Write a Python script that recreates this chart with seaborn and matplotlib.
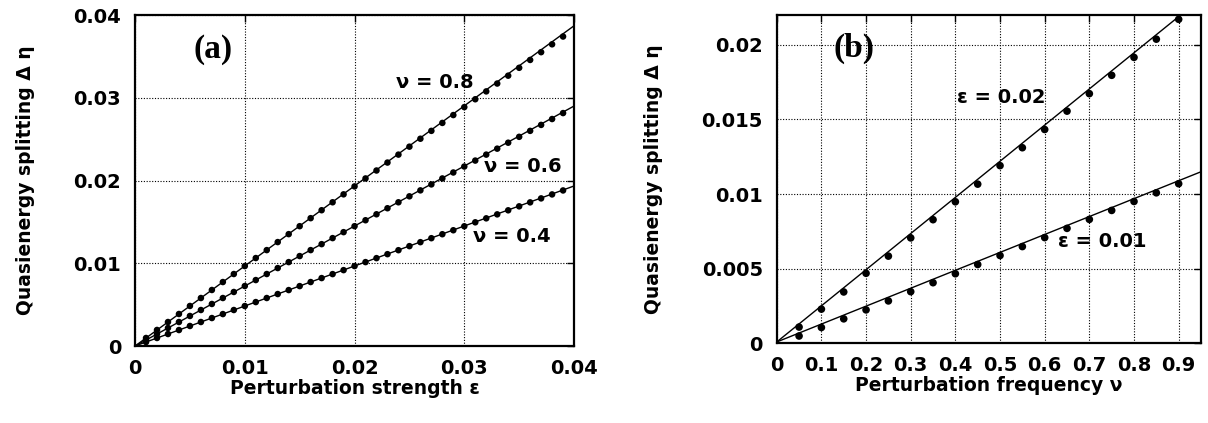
import numpy as np
import pandas as pd
import matplotlib
matplotlib.use('Agg')
import matplotlib.pyplot as plt
import seaborn as sns

# painel (a): desdobramento vs intensidade da perturbacao
eps_a = [0.001, 0.002, 0.003, 0.004, 0.005, 0.006, 0.007, 0.008, 0.009, 0.010,
         0.011, 0.012, 0.013, 0.014, 0.015, 0.016, 0.017, 0.018, 0.019, 0.020,
         0.021, 0.022, 0.023, 0.024, 0.025, 0.026, 0.027, 0.028, 0.029, 0.030,
         0.031, 0.032, 0.033, 0.034, 0.035, 0.036, 0.037, 0.038, 0.039]
deta_nu08 = [0.00097, 0.00194, 0.00290, 0.00387, 0.00484, 0.00580, 0.00677, 0.00773, 0.00870, 0.00966,
             0.01063, 0.01159, 0.01256, 0.01352, 0.01448, 0.01545, 0.01641, 0.01737, 0.01833, 0.01929,
             0.02025, 0.02121, 0.02217, 0.02313, 0.02409, 0.02505, 0.02600, 0.02696, 0.02791, 0.02887,
             0.02982, 0.03077, 0.03172, 0.03267, 0.03362, 0.03457, 0.03551, 0.03646, 0.03740]
deta_nu06 = [0.00073, 0.00145, 0.00218, 0.00290, 0.00363, 0.00435, 0.00508, 0.00580, 0.00653, 0.00725,
             0.00797, 0.00870, 0.00942, 0.01014, 0.01087, 0.01159, 0.01231, 0.01304, 0.01376, 0.01448,
             0.01520, 0.01592, 0.01665, 0.01737, 0.01809, 0.01881, 0.01953, 0.02025, 0.02097, 0.02169,
             0.02241, 0.02313, 0.02385, 0.02457, 0.02528, 0.02600, 0.02672, 0.02743, 0.02815]
deta_nu04 = [0.00048, 0.00097, 0.00145, 0.00193, 0.00242, 0.00290, 0.00338, 0.00386, 0.00435, 0.00483,
             0.00531, 0.00580, 0.00628, 0.00676, 0.00724, 0.00773, 0.00821, 0.00869, 0.00917, 0.00966,
             0.01014, 0.01062, 0.01110, 0.01158, 0.01207, 0.01255, 0.01303, 0.01351, 0.01399, 0.01447,
             0.01495, 0.01543, 0.01591, 0.01640, 0.01688, 0.01736, 0.01784, 0.01832, 0.01880]
# retas de ajuste (extremos)
fit_eps = [0.0, 0.04]
fit_nu08 = [0.0, 0.0387]
fit_nu06 = [0.0, 0.0290]
fit_nu04 = [0.0, 0.01934]

# painel (b): desdobramento vs frequencia da perturbacao
nu_b = [0.05, 0.10, 0.15, 0.20, 0.25, 0.30, 0.35, 0.40, 0.45,
        0.50, 0.55, 0.60, 0.65, 0.70, 0.75, 0.80, 0.85, 0.90]
deta_eps002 = [0.00110, 0.00230, 0.00345, 0.00470, 0.00585, 0.00707, 0.00829, 0.00949, 0.01067,
               0.01191, 0.01311, 0.01433, 0.01556, 0.01673, 0.01796, 0.01916, 0.02038, 0.02171]
deta_eps001 = [0.00050, 0.00107, 0.00165, 0.00225, 0.00285, 0.00347, 0.00407, 0.00467, 0.00529,
               0.00589, 0.00649, 0.00709, 0.00771, 0.00831, 0.00891, 0.00951, 0.01009, 0.01070]
fit_nu = [0.0, 0.95]
fit_eps002 = [0.0001, 0.0231]
fit_eps001 = [0.0001, 0.0115]

rotulos_a = ['\u03bd = 0.8', '\u03bd = 0.6', '\u03bd = 0.4']
rotulos_b = ['\u03b5 = 0.02', '\u03b5 = 0.01']

sns.set_theme(style='white')
plt.rcParams['font.family'] = ['DejaVu Sans']
plt.rcParams['text.color'] = 'black'
plt.rcParams['axes.labelcolor'] = 'black'

pontos_a = pd.DataFrame({
    'eps': eps_a * 3,
    'deta': deta_nu08 + deta_nu06 + deta_nu04,
    'serie': [rotulos_a[0]] * len(eps_a) + [rotulos_a[1]] * len(eps_a) + [rotulos_a[2]] * len(eps_a),
})
retas_a = pd.DataFrame({
    'eps': fit_eps * 3,
    'deta': fit_nu08 + fit_nu06 + fit_nu04,
    'serie': [rotulos_a[0]] * 2 + [rotulos_a[1]] * 2 + [rotulos_a[2]] * 2,
})
pontos_b = pd.DataFrame({
    'nu': nu_b * 2,
    'deta': deta_eps002 + deta_eps001,
    'serie': [rotulos_b[0]] * len(nu_b) + [rotulos_b[1]] * len(nu_b),
})
retas_b = pd.DataFrame({
    'nu': fit_nu * 2,
    'deta': fit_eps002 + fit_eps001,
    'serie': [rotulos_b[0]] * 2 + [rotulos_b[1]] * 2,
})

fig = plt.figure(figsize=(12.08, 4.23), dpi=100)
ax_a = fig.add_axes([0.1118, 0.182, 0.3634, 0.7825])
ax_b = fig.add_axes([0.643, 0.188, 0.3512, 0.7766])

preto_a = {r: 'black' for r in rotulos_a}
preto_b = {r: 'black' for r in rotulos_b}

sns.lineplot(data=retas_a, x='eps', y='deta', hue='serie', palette=preto_a,
             lw=1.0, legend=False, ax=ax_a)
sns.scatterplot(data=pontos_a, x='eps', y='deta', hue='serie', palette=preto_a,
                s=22, linewidth=0, legend=False, ax=ax_a, zorder=3)
sns.lineplot(data=retas_b, x='nu', y='deta', hue='serie', palette=preto_b,
             lw=1.0, legend=False, ax=ax_b)
sns.scatterplot(data=pontos_b, x='nu', y='deta', hue='serie', palette=preto_b,
                s=30, linewidth=0, legend=False, ax=ax_b, zorder=3)

# eixos
ax_a.set_xlim(0, 0.04)
ax_a.set_ylim(0, 0.04)
ax_a.set_xticks([0, 0.01, 0.02, 0.03, 0.04])
ax_a.set_xticklabels(['0', '0.01', '0.02', '0.03', '0.04'])
ax_a.set_yticks([0, 0.01, 0.02, 0.03, 0.04])
ax_a.set_yticklabels(['0', '0.01', '0.02', '0.03', '0.04'])

ax_b.set_xlim(0, 0.95)
ax_b.set_ylim(0, 0.022)
ax_b.set_xticks([0, 0.1, 0.2, 0.3, 0.4, 0.5, 0.6, 0.7, 0.8, 0.9])
ax_b.set_xticklabels(['0', '0.1', '0.2', '0.3', '0.4', '0.5', '0.6', '0.7', '0.8', '0.9'])
ax_b.set_yticks([0, 0.005, 0.01, 0.015, 0.02])
ax_b.set_yticklabels(['0', '0.005', '0.01', '0.015', '0.02'])

for ax in (ax_a, ax_b):
    ax.grid(True, color='black', linestyle=(0, (1, 1.5)), linewidth=0.8)
    ax.tick_params(direction='in', length=5, width=1, top=True, right=True,
                   labelsize=14, colors='black')
    ax.tick_params(axis='y', pad=10)
    ax.tick_params(axis='x', pad=9)
    for sp in ax.spines.values():
        sp.set_visible(True)
        sp.set_color('black')
        sp.set_linewidth(1.6)
    for lab in ax.get_xticklabels() + ax.get_yticklabels():
        lab.set_fontweight('bold')

fonte_eixo = dict(fontsize=13.5, fontweight='bold', color='black')
ax_a.set_xlabel('Perturbation strength \u03b5', labelpad=1, **fonte_eixo)
ax_a.set_ylabel('Quasienergy splitting \u0394 \u03b7', labelpad=28, **fonte_eixo)
ax_b.set_xlabel('Perturbation frequency \u03bd', labelpad=1, **fonte_eixo)
ax_b.set_ylabel('Quasienergy splitting \u0394 \u03b7', labelpad=28, **fonte_eixo)

# rotulos das curvas
ax_a.text(0.0071, 0.0358, '(a)', fontsize=24, fontweight='bold', family='Liberation Serif',
          ha='center', va='center', color='black')
ax_a.text(0.02733, 0.0319, rotulos_a[0], fontsize=14, fontweight='bold', ha='center', va='center', color='black')
ax_a.text(0.03531, 0.02175, rotulos_a[1], fontsize=14, fontweight='bold', ha='center', va='center', color='black')
ax_a.text(0.0343, 0.01329, rotulos_a[2], fontsize=14, fontweight='bold', ha='center', va='center', color='black')

ax_b.text(0.1727, 0.01973, '(b)', fontsize=24, fontweight='bold', family='Liberation Serif',
          ha='center', va='center', color='black')
ax_b.text(0.5026, 0.01648, rotulos_b[0], fontsize=14, fontweight='bold', ha='center', va='center', color='black')
ax_b.text(0.729, 0.006835, rotulos_b[1], fontsize=14, fontweight='bold', ha='center', va='center', color='black')

fig.savefig('out.png', dpi=100)
